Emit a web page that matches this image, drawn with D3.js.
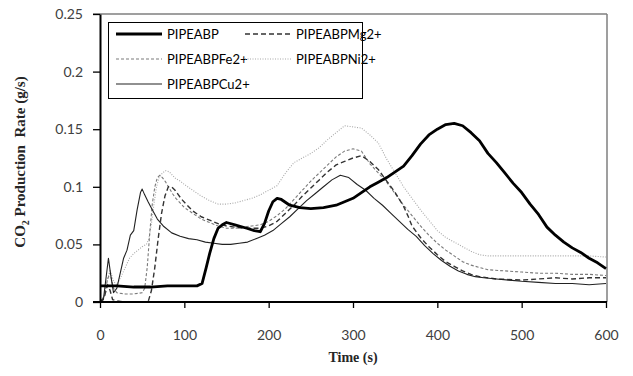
<!DOCTYPE html>
<html>
<head>
<meta charset="utf-8">
<script src="https://cdn.jsdelivr.net/npm/d3@7"></script>
<style>
  html, body { margin: 0; padding: 0; background: #fff; }
  svg { display: block; }
</style>
</head>
<body>
<svg id="chart" width="633" height="376"></svg>
<script>
// ---------- DATA ----------
const seriesNames = ["PIPEABP", "PIPEABPMg2+", "PIPEABPFe2+", "PIPEABPNi2+", "PIPEABPCu2+"];
const xTicks = [0, 100, 200, 300, 400, 500, 600];
const yTicks = [0, 0.05, 0.1, 0.15, 0.2, 0.25];
const yTickLabels = ["0", "0.05", "0.1", "0.15", "0.2", "0.25"];

const tA = [0, 20, 40, 60, 80, 100, 115, 121, 126, 130, 135, 140, 145, 150, 160, 174, 183, 190, 195, 200, 205, 210, 215, 225, 237, 250, 265, 280, 290, 300, 310, 320, 330, 340, 350, 360, 370, 380, 390, 400, 410, 420, 430, 440, 450, 460, 470, 480, 490, 500, 510, 520, 530, 540, 550, 560, 570, 580, 590, 600];
const vA = [0.014, 0.014, 0.013, 0.013, 0.014, 0.014, 0.014, 0.016, 0.03, 0.042, 0.055, 0.064, 0.067, 0.069, 0.067, 0.064, 0.062, 0.061, 0.068, 0.079, 0.087, 0.090, 0.089, 0.084, 0.082, 0.081, 0.082, 0.084, 0.087, 0.090, 0.095, 0.100, 0.104, 0.108, 0.113, 0.118, 0.127, 0.137, 0.145, 0.150, 0.154, 0.155, 0.153, 0.147, 0.140, 0.129, 0.121, 0.112, 0.103, 0.095, 0.085, 0.076, 0.065, 0.058, 0.052, 0.047, 0.043, 0.038, 0.034, 0.029];

const tM = [0, 5, 9, 12, 15, 20, 30, 40, 50, 57, 61, 65, 69, 73, 77, 81, 85, 89, 93, 97, 102, 110, 120, 130, 140, 150, 160, 170, 180, 190, 200, 210, 220, 230, 240, 250, 260, 270, 280, 290, 300, 310, 320, 330, 340, 350, 360, 365, 370, 380, 390, 400, 410, 420, 430, 440, 450, 470, 500, 520, 540, 560, 580, 600];
const vM = [0, 0.004, 0.015, 0.01, 0.002, 0.001, 0, 0, 0, 0, 0.01, 0.03, 0.055, 0.077, 0.092, 0.1, 0.1, 0.097, 0.093, 0.089, 0.085, 0.079, 0.074, 0.071, 0.068, 0.066, 0.065, 0.064, 0.064, 0.064, 0.066, 0.07, 0.077, 0.084, 0.092, 0.099, 0.106, 0.113, 0.119, 0.122, 0.125, 0.127, 0.122, 0.115, 0.105, 0.095, 0.083, 0.075, 0.066, 0.056, 0.048, 0.041, 0.035, 0.031, 0.027, 0.024, 0.022, 0.02, 0.019, 0.02, 0.021, 0.02, 0.021, 0.021];

const tF = [0, 5, 9, 12, 16, 20, 30, 40, 50, 53, 56, 59, 62, 65, 68, 71, 74, 78, 82, 86, 90, 95, 100, 110, 120, 130, 140, 150, 160, 170, 180, 190, 200, 210, 220, 230, 240, 250, 260, 270, 280, 290, 300, 310, 320, 330, 340, 350, 360, 370, 380, 390, 400, 410, 420, 430, 440, 450, 460, 480, 500, 520, 540, 560, 580, 600];
const vF = [0, 0.005, 0.02, 0.025, 0.012, 0.008, 0.007, 0.007, 0.008, 0.012, 0.03, 0.06, 0.085, 0.1, 0.108, 0.11, 0.108, 0.104, 0.099, 0.094, 0.09, 0.086, 0.082, 0.077, 0.072, 0.069, 0.066, 0.064, 0.064, 0.065, 0.066, 0.067, 0.07, 0.075, 0.081, 0.089, 0.097, 0.105, 0.112, 0.119, 0.126, 0.131, 0.133, 0.131, 0.12, 0.112, 0.104, 0.094, 0.084, 0.075, 0.066, 0.058, 0.051, 0.045, 0.04, 0.035, 0.032, 0.03, 0.028, 0.027, 0.026, 0.025, 0.025, 0.024, 0.024, 0.023];

const tN = [0, 5, 9, 12, 16, 20, 25, 30, 35, 40, 45, 50, 55, 58, 61, 64, 67, 70, 74, 78, 82, 86, 90, 95, 100, 110, 120, 130, 140, 150, 160, 170, 180, 190, 200, 210, 220, 230, 240, 250, 260, 270, 280, 290, 300, 310, 320, 330, 340, 350, 360, 370, 380, 390, 400, 410, 420, 430, 440, 450, 460, 480, 500, 520, 540, 560, 580, 600];
const vN = [0, 0.005, 0.02, 0.028, 0.018, 0.015, 0.022, 0.03, 0.038, 0.042, 0.045, 0.048, 0.05, 0.055, 0.068, 0.085, 0.1, 0.108, 0.112, 0.114, 0.113, 0.11, 0.107, 0.105, 0.102, 0.097, 0.092, 0.088, 0.085, 0.085, 0.086, 0.088, 0.09, 0.093, 0.097, 0.101, 0.112, 0.121, 0.125, 0.129, 0.134, 0.141, 0.147, 0.153, 0.152, 0.151, 0.145, 0.138, 0.124, 0.112, 0.1, 0.09, 0.08, 0.071, 0.062, 0.056, 0.052, 0.048, 0.044, 0.041, 0.04, 0.04, 0.04, 0.04, 0.04, 0.04, 0.04, 0.039];

const tC = [0, 4, 7, 10, 13, 16, 20, 24, 28, 32, 36, 40, 44, 48, 50, 53, 57, 62, 68, 75, 85, 95, 105, 115, 125, 135, 145, 155, 165, 175, 185, 195, 205, 215, 225, 235, 245, 255, 265, 275, 285, 295, 305, 315, 325, 335, 345, 355, 365, 375, 385, 395, 405, 415, 425, 435, 445, 455, 470, 485, 500, 520, 540, 560, 580, 600];
const vC = [0, 0.002, 0.02, 0.038, 0.022, 0.008, 0.012, 0.025, 0.038, 0.045, 0.058, 0.062, 0.08, 0.095, 0.098, 0.093, 0.087, 0.08, 0.072, 0.066, 0.06, 0.057, 0.055, 0.054, 0.052, 0.051, 0.05, 0.05, 0.051, 0.052, 0.055, 0.058, 0.062, 0.068, 0.074, 0.081, 0.088, 0.094, 0.1, 0.106, 0.11, 0.108, 0.102, 0.097, 0.09, 0.084, 0.077, 0.07, 0.063, 0.057, 0.049, 0.042, 0.036, 0.031, 0.027, 0.024, 0.022, 0.021, 0.02, 0.019, 0.018, 0.017, 0.016, 0.016, 0.015, 0.016];

// ---------- DRAW ----------
const svg = d3.select("#chart");
const x = d3.scaleLinear().domain([0, 600]).range([100, 606]);
const y = d3.scaleLinear().domain([0, 0.25]).range([302, 14]);

const series = [
  { name: seriesNames[0], t: tA, v: vA, color: "#000000", width: 2.8, dash: null },
  { name: seriesNames[1], t: tM, v: vM, color: "#333333", width: 1.4, dash: "5,3" },
  { name: seriesNames[2], t: tF, v: vF, color: "#7a7a7a", width: 1.1, dash: "3,2" },
  { name: seriesNames[3], t: tN, v: vN, color: "#a8a8a8", width: 1.1, dash: "1,1.5" },
  { name: seriesNames[4], t: tC, v: vC, color: "#222222", width: 1.1, dash: null }
];

// frame (top and right)
svg.append("line").attr("x1", 93).attr("x2", x(600) + 1).attr("y1", y(0.25)).attr("y2", y(0.25))
  .attr("stroke", "#7f7f7f").attr("stroke-width", 1.5);
svg.append("line").attr("x1", x(600) + 1).attr("x2", x(600) + 1).attr("y1", y(0.25)).attr("y2", y(0))
  .attr("stroke", "#7f7f7f").attr("stroke-width", 1.5);

svg.append("clipPath").attr("id", "clip").append("rect")
  .attr("x", x(0)).attr("y", y(0.25)).attr("width", x(600) - x(0) + 1).attr("height", y(0) - y(0.25) + 2);

const line = d3.line().x(d => x(d[0])).y(d => y(d[1]));
const g = svg.append("g").attr("clip-path", "url(#clip)");
// draw light series first, thick black last
[3, 2, 1, 4, 0].forEach(i => {
  const s = series[i];
  g.append("path")
    .datum(s.t.map((t, k) => [t, s.v[k]]))
    .attr("d", line)
    .attr("fill", "none")
    .attr("stroke", s.color)
    .attr("stroke-width", s.width)
    .attr("stroke-linejoin", "round")
    .attr("stroke-dasharray", s.dash);
});

// axes
const xAxis = d3.axisBottom(x).tickValues(xTicks).tickSize(6).tickSizeOuter(0).tickPadding(22);
const yAxis = d3.axisLeft(y).tickValues(yTicks).tickSize(7).tickSizeOuter(0).tickPadding(10)
  .tickFormat((d, i) => yTickLabels[i]);

const gx = svg.append("g").attr("transform", `translate(0,${y(0)})`).call(xAxis);
gx.select(".domain").attr("d", `M93,0H${x(600) + 1}`).attr("stroke", "#000").attr("stroke-width", 2);
gx.selectAll(".tick line").attr("stroke", "#000").attr("stroke-width", 1.3);
gx.selectAll(".tick text").attr("font-family", "Lato, 'Open Sans', sans-serif").attr("font-size", 14).attr("fill", "#404040");

const gy = svg.append("g").attr("transform", `translate(${x(0)},0)`).call(yAxis);
gy.select(".domain").attr("stroke", "#000").attr("stroke-width", 2);
gy.selectAll(".tick line").attr("stroke", "#000").attr("stroke-width", 1.3);
gy.selectAll(".tick text").attr("font-family", "Lato, 'Open Sans', sans-serif").attr("font-size", 14).attr("fill", "#404040");

// axis titles
svg.append("text").attr("x", 353).attr("y", 362).attr("text-anchor", "middle")
  .attr("font-family", "'Liberation Serif', 'Times New Roman', serif").attr("font-weight", "bold").attr("font-size", 14)
  .attr("fill", "#262626").text("Time (s)");

const yt = svg.append("text").attr("transform", "translate(25,162) rotate(-90)").attr("text-anchor", "middle")
  .attr("font-family", "'Liberation Serif', 'Times New Roman', serif").attr("font-weight", "bold").attr("font-size", 15)
  .attr("fill", "#262626").attr("xml:space", "preserve");
yt.append("tspan").text("CO");
yt.append("tspan").attr("font-size", 10).attr("dy", 4).text("2");
yt.append("tspan").attr("dy", -4).text(" Production  Rate (g/s)");

// legend
const lg = svg.append("g");
lg.append("rect").attr("x", 108.5).attr("y", 22.5).attr("width", 254).attr("height", 76)
  .attr("fill", "#fff").attr("stroke", "#000").attr("stroke-width", 1);
const legendPos = [
  { lx: 116, ly: 34 }, { lx: 245, ly: 34 },
  { lx: 116, ly: 59 }, { lx: 245, ly: 59 },
  { lx: 116, ly: 84 }
];
series.forEach((s, i) => {
  const p = legendPos[i];
  lg.append("line").attr("x1", p.lx).attr("x2", p.lx + 46).attr("y1", p.ly).attr("y2", p.ly)
    .attr("stroke", s.color).attr("stroke-width", s.width).attr("stroke-dasharray", s.dash);
  lg.append("text").attr("x", p.lx + 51).attr("y", p.ly + 5)
    .attr("font-family", "Lato, 'Open Sans', sans-serif").attr("font-size", 13).attr("fill", "#000")
    .text(s.name);
});
</script>
</body>
</html>
